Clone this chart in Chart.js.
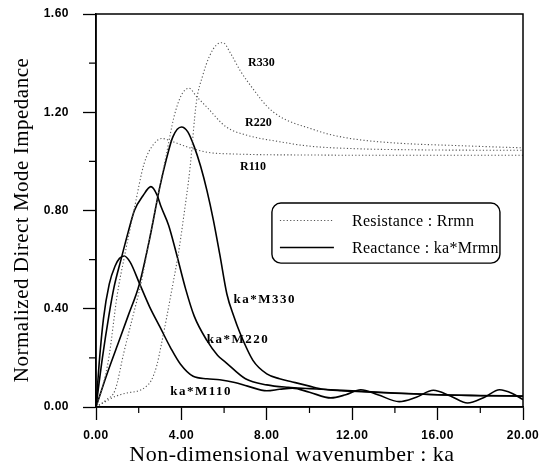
<!DOCTYPE html>
<html>
<head>
<meta charset="utf-8">
<script src="https://cdn.jsdelivr.net/npm/chart.js@4/dist/chart.umd.min.js"></script>
<style>
  html, body { margin: 0; padding: 0; background: #fff; }
  #wrap { width: 540px; height: 476px; }
</style>
</head>
<body>
<div id="wrap"><canvas id="impedance" width="540" height="476"></canvas></div>
<script>
// Axis ticks
const kaTicks = [0, 4, 8, 12, 16, 20];
const kaMinor = [2, 6, 10, 14, 18];
const zTicks = [0, 0.4, 0.8, 1.2, 1.6];
const zMinor = [0.2, 0.6, 1.0, 1.4];

// Resistance curves (dotted)
const r110Ka = [0, 0.3, 0.6, 1.0, 1.35, 1.8, 2.25, 2.7, 3.1, 3.6, 4.4, 5.3, 6.5, 8, 10, 12, 14, 16, 18, 20];
const r110 = [0, 0.08, 0.2, 0.46, 0.62, 0.81, 0.99, 1.07, 1.093, 1.08, 1.055, 1.036, 1.03, 1.027, 1.026, 1.025, 1.025, 1.025, 1.025, 1.025];

const r220Ka = [0, 0.5, 0.9, 1.3, 1.7, 2.1, 2.5, 2.9, 3.3, 3.65, 4.0, 4.35, 4.7, 5.2, 6.1, 7.0, 8.6, 10, 12, 15, 20];
const r220 = [0, 0.03, 0.07, 0.22, 0.36, 0.5, 0.68, 0.86, 1.03, 1.18, 1.27, 1.298, 1.265, 1.22, 1.14, 1.108, 1.08, 1.062, 1.052, 1.047, 1.045];

const r330Ka = [0, 0.4, 0.9, 1.5, 2.0, 2.3, 2.6, 2.85, 3.05, 3.3, 3.6, 3.85, 4.1, 4.4, 4.7, 5.0, 5.3, 5.65, 5.95, 6.3, 6.75, 7.4, 8.0, 8.6, 9.2, 10, 10.8, 12, 14, 17, 20];
const r330 = [0, 0.02, 0.043, 0.058, 0.066, 0.08, 0.11, 0.17, 0.25, 0.36, 0.5, 0.62, 0.77, 0.97, 1.24, 1.35, 1.425, 1.475, 1.483, 1.44, 1.37, 1.29, 1.225, 1.183, 1.158, 1.135, 1.113, 1.092, 1.075, 1.064, 1.055];

// Reactance curves (solid)
const m110Ka = [0, 0.15, 0.35, 0.62, 0.9, 1.1, 1.32, 1.6, 2.05, 2.5, 3.0, 3.5, 3.95, 4.55, 5.2, 5.8, 6.5, 7.1, 8.0, 8.6, 9.2, 10.0, 11.0, 11.7, 12.4, 13.2, 14.2, 15.0, 15.8, 16.6, 17.4, 18.2, 18.9, 19.5, 20];
const m110 = [0, 0.18, 0.36, 0.5, 0.575, 0.605, 0.615, 0.59, 0.5, 0.41, 0.325, 0.24, 0.175, 0.125, 0.115, 0.111, 0.1, 0.085, 0.066, 0.072, 0.077, 0.06, 0.037, 0.05, 0.07, 0.05, 0.022, 0.04, 0.068, 0.045, 0.016, 0.04, 0.07, 0.055, 0.03];

const m220Ka = [0, 0.3, 0.6, 0.85, 1.17, 1.5, 1.8, 2.2, 2.57, 2.85, 3.05, 3.4, 3.75, 4.2, 4.6, 5.2, 5.7, 6.1, 7.0, 8.0, 9.0, 10, 11, 12, 14, 16, 18, 20];
const m220 = [0, 0.2, 0.37, 0.49, 0.6, 0.71, 0.8, 0.86, 0.897, 0.865, 0.815, 0.74, 0.63, 0.48, 0.37, 0.27, 0.21, 0.18, 0.115, 0.09, 0.08, 0.075, 0.07, 0.066, 0.057, 0.05, 0.047, 0.045];

const m330Ka = [0, 0.5, 1.0, 1.5, 2.03, 2.5, 3.0, 3.3, 3.6, 4.0, 4.3, 4.6, 4.9, 5.2, 5.5, 5.8, 6.13, 6.45, 6.75, 7.35, 8.0, 8.6, 9.2, 10.0, 10.65, 11.5, 12, 14, 16, 18, 20];
const m330 = [0, 0.13, 0.25, 0.37, 0.5, 0.68, 0.9, 1.01, 1.1, 1.14, 1.12, 1.06, 0.98, 0.88, 0.76, 0.62, 0.46, 0.37, 0.30, 0.19, 0.135, 0.115, 0.102, 0.085, 0.072, 0.066, 0.064, 0.056, 0.05, 0.046, 0.044];

// Curve names, written next to each curve (ka, Z of the text's left/middle)
const curveNames = ["R330", "R220", "R110", "ka*M330", "ka*M220", "ka*M110"];
const nameKa = [7.12, 6.98, 6.75, 6.44, 5.19, 3.48];
const nameZ = [1.40, 1.155, 0.979, 0.437, 0.274, 0.063];

const xTitle = "Non-dimensional wavenumber : ka";
const yTitle = "Normalized Direct Mode Impedance";

const toPoints = (xs, ys) => xs.map((v, i) => ({ x: v, y: ys[i] }));

const dotted = { borderColor: "#555", borderWidth: 1.1, borderDash: [1.2, 2.2] };
const solid = { borderColor: "#000", borderWidth: 1.6 };

function series(label, xs, ys, style) {
    return Object.assign({
        label: label,
        data: toPoints(xs, ys),
        pointRadius: 0,
        fill: false,
        cubicInterpolationMode: "monotone"
    }, style);
}

const serif = "'Liberation Serif', 'Times New Roman', serif";
const sans = "'Liberation Sans', Arial, sans-serif";

// wider letter spacing for the tick labels
const spacing = {
    id: "spacing",
    beforeDraw(chart) { chart.ctx.letterSpacing = "0.5px"; },
    afterDatasetsDraw(chart) { chart.ctx.letterSpacing = "0px"; }
};

// frame, minor ticks, axis titles, curve names and the boxed legend
const decor = {
    id: "decor",
    afterDraw(chart) {
        const { ctx, chartArea: a, scales: { x, y } } = chart;
        const w = a.right - a.left, h = a.bottom - a.top;
        ctx.save();
        ctx.strokeStyle = "#000";
        ctx.lineWidth = 1.5;
        ctx.strokeRect(a.left, a.top, w, h);

        ctx.lineWidth = 1.2;
        ctx.beginPath();
        kaMinor.forEach(v => {
            const px = x.getPixelForValue(v);
            ctx.moveTo(px, a.bottom);
            ctx.lineTo(px, a.bottom + 6);
        });
        zMinor.forEach(v => {
            const py = y.getPixelForValue(v);
            ctx.moveTo(a.left, py);
            ctx.lineTo(a.left - 7, py);
        });
        ctx.stroke();

        // axis titles
        ctx.fillStyle = "#000";
        ctx.textAlign = "center";
        ctx.textBaseline = "middle";
        ctx.letterSpacing = "0.5px";
        ctx.font = "22px " + serif;
        ctx.fillText(xTitle, a.left + w * 0.459, a.bottom + 48);
        ctx.save();
        ctx.translate(a.left - 74, a.top + h * 0.524);
        ctx.rotate(-Math.PI / 2);
        ctx.font = "21px " + serif;
        ctx.fillText(yTitle, 0, 0);
        ctx.restore();

        ctx.textAlign = "left";
        curveNames.forEach((name, i) => {
            const isKa = name.startsWith("ka");
            ctx.font = (isKa ? "bold 13px " : "bold 12px ") + serif;
            ctx.letterSpacing = isKa ? "1.5px" : "0px";
            ctx.fillText(name, x.getPixelForValue(nameKa[i]), y.getPixelForValue(nameZ[i]));
        });
        ctx.letterSpacing = "0px";

        // legend box
        const bx = a.left + w * 0.412, by = a.top + h * 0.481;
        const bw = w * 0.534, bh = h * 0.153;
        ctx.lineWidth = 1.4;
        ctx.beginPath();
        ctx.roundRect(bx, by, bw, bh, 9);
        ctx.fillStyle = "#fff";
        ctx.fill();
        ctx.stroke();

        const rows = [
            { text: "Resistance : Rrmn", style: dotted },
            { text: "Reactance : ka*Mrmn", style: solid }
        ];
        rows.forEach((r, i) => {
            const ry = by + bh * (0.29 + i * 0.45);
            ctx.save();
            ctx.strokeStyle = r.style.borderColor;
            ctx.lineWidth = r.style.borderWidth;
            ctx.setLineDash(r.style.borderDash || []);
            ctx.beginPath();
            ctx.moveTo(bx + 8, ry);
            ctx.lineTo(bx + 62, ry);
            ctx.stroke();
            ctx.restore();
            ctx.fillStyle = "#000";
            ctx.font = "16px " + serif;
            ctx.letterSpacing = "0.3px";
            ctx.fillText(r.text, bx + 80, ry + 1);
        });
        ctx.restore();
    }
};

new Chart(document.getElementById("impedance"), {
    type: "line",
    data: {
        datasets: [
            series("R110", r110Ka, r110, dotted),
            series("R220", r220Ka, r220, dotted),
            series("R330", r330Ka, r330, dotted),
            series("ka*M110", m110Ka, m110, solid),
            series("ka*M220", m220Ka, m220, solid),
            series("ka*M330", m330Ka, m330, solid)
        ]
    },
    options: {
        responsive: false,
        animation: false,
        devicePixelRatio: 1,
        layout: { padding: { top: 14, right: 17, left: 0, bottom: 0 } },
        plugins: { legend: { display: false }, tooltip: { enabled: false } },
        scales: {
            x: {
                type: "linear",
                min: 0,
                max: 20,
                afterBuildTicks: s => { s.ticks = kaTicks.map(v => ({ value: v })); },
                afterFit: s => { s.height = 69; s.paddingLeft = 0; s.paddingRight = 0; },
                ticks: {
                    color: "#000",
                    padding: 8,
                    maxRotation: 0,
                    font: { family: sans, weight: "bold", size: 12 },
                    callback: v => v.toFixed(2)
                },
                grid: { drawOnChartArea: false, tickLength: 13, tickColor: "#000", tickWidth: 1.3 },
                border: { color: "#000", width: 1.5 }
            },
            y: {
                type: "linear",
                min: 0,
                max: 1.6,
                afterBuildTicks: s => { s.ticks = zTicks.map(v => ({ value: v })); },
                afterFit: s => { s.width = 96; s.paddingTop = 0; s.paddingBottom = 0; },
                ticks: {
                    color: "#000",
                    padding: 14,
                    font: { family: sans, weight: "bold", size: 12 },
                    callback: v => v.toFixed(2)
                },
                grid: { drawOnChartArea: false, tickLength: 13, tickColor: "#000", tickWidth: 1.3 },
                border: { color: "#000", width: 1.5 }
            }
        }
    },
    plugins: [spacing, decor]
});
</script>
</body>
</html>
